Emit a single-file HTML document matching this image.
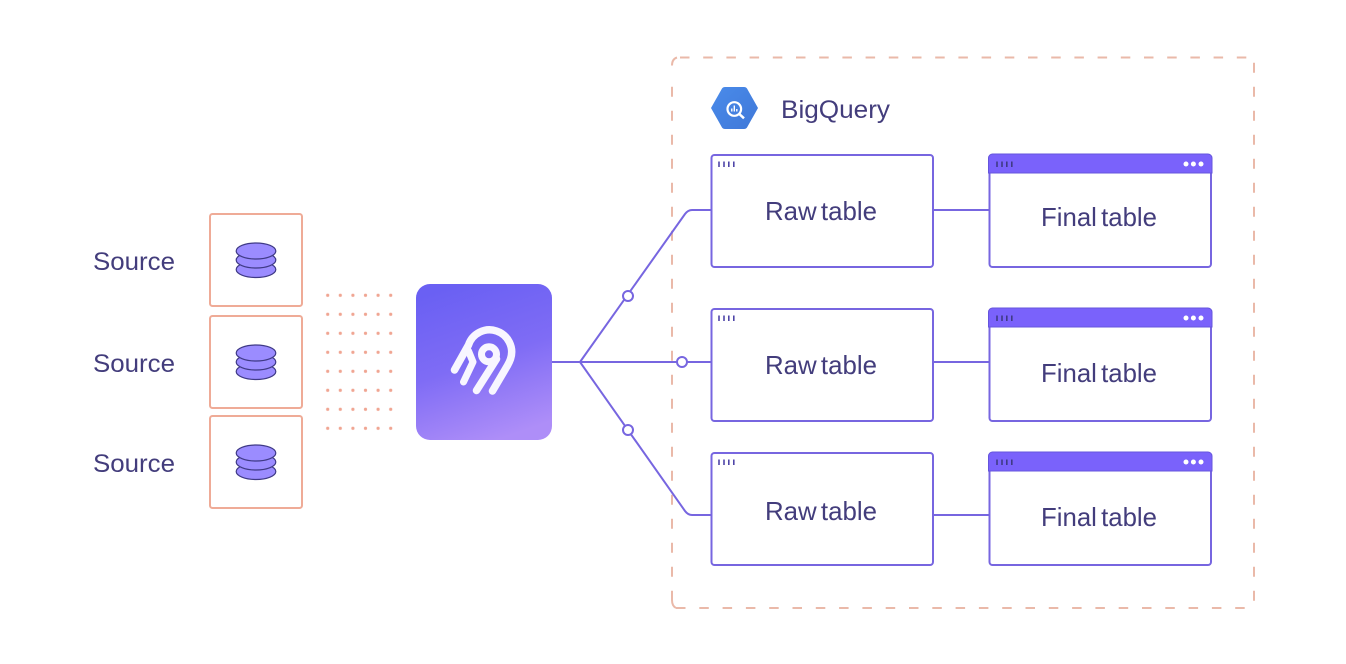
<!DOCTYPE html>
<html><head><meta charset="utf-8"><style>
html,body{margin:0;padding:0;background:#fff;width:1346px;height:664px;overflow:hidden}
svg{display:block}
text{font-family:"Liberation Sans",sans-serif;fill:#433d7c;font-size:25px}
.t{font-size:26px;word-spacing:-3px}
</style></head><body>
<svg width="1346" height="664" viewBox="0 0 1346 664" xmlns="http://www.w3.org/2000/svg">
<defs>
<linearGradient id="g" x1="0.3" y1="0" x2="0.6" y2="1"><stop offset="0" stop-color="#6a60f3"/><stop offset="0.5" stop-color="#7f6cf5"/><stop offset="1" stop-color="#ae8ef8"/></linearGradient>
<linearGradient id="b" x1="0" y1="0" x2="1" y2="1"><stop offset="0" stop-color="#4a8bea"/><stop offset="1" stop-color="#3f78d8"/></linearGradient>
<pattern id="dots" x="321.400" y="285.800" width="12.600" height="19" patternUnits="userSpaceOnUse"><circle cx="6.300" cy="9.500" r="1.600" fill="#f0a592"/></pattern>
<g id="db" fill="#9b8cff" stroke="#3f3a86" stroke-width="1.200">
<ellipse cx="256" cy="269.500" rx="19.800" ry="8"/><ellipse cx="256" cy="260" rx="19.800" ry="8"/><ellipse cx="256" cy="251" rx="19.800" ry="8"/>
</g>
<g id="raw">
<rect x="711.500" y="155" width="221.500" height="112" rx="3" fill="#fff" stroke="#7766e0" stroke-width="2"/>
<path d="M719 161.500v5.500M724 161.500v5.500M728.800 161.500v5.500M733.800 161.500v5.500" stroke="#4f46a8" stroke-width="1.600"/>
</g>
<g id="fin">
<rect x="989.500" y="155" width="221.500" height="112" rx="3" fill="#fff" stroke="#7766e0" stroke-width="2"/>
<path d="M988.500 173V158a4 4 0 0 1 4-4H1208a4 4 0 0 1 4 4V173Z" fill="#7a62fb" stroke="#6555dc" stroke-width="1"/>
<path d="M997 161.500v5.500M1002 161.500v5.500M1006.800 161.500v5.500M1011.800 161.500v5.500" stroke="#3f3a86" stroke-width="1.600"/>
<circle cx="1186" cy="164" r="2.500" fill="#fff"/><circle cx="1193.400" cy="164" r="2.500" fill="#fff"/><circle cx="1201" cy="164" r="2.500" fill="#fff"/>
</g>
</defs>

<g fill="none" stroke="#eab9a9" stroke-width="2">
<path d="M680 57.500H1249" stroke-dasharray="9.500 13.700"/>
<path d="M676 608H1249" stroke-dasharray="9.500 13.800" stroke-dashoffset="0"/>
<path d="M672 86.700V592" stroke-dasharray="10 14"/>
<path d="M672 65.500Q672 59 677 57.500"/>
<path d="M672 592V600Q672 606 676 608"/>
<path d="M1254 62.700V606" stroke-dasharray="10 14"/>
</g>

<g fill="#fff" stroke="#efab97" stroke-width="2">
<rect x="210" y="214" width="92" height="92" rx="2.500"/>
<rect x="210" y="316" width="92" height="92" rx="2.500"/>
<rect x="210" y="416" width="92" height="92" rx="2.500"/>
</g>
<use href="#db"/><use href="#db" y="102"/><use href="#db" y="202"/>

<text x="93" y="270" textLength="82" lengthAdjust="spacingAndGlyphs">Source</text>
<text x="93" y="372" textLength="82" lengthAdjust="spacingAndGlyphs">Source</text>
<text x="93" y="472" textLength="82" lengthAdjust="spacingAndGlyphs">Source</text>

<rect x="321.400" y="285.800" width="75.600" height="152" fill="url(#dots)"/>

<g fill="none" stroke="#7766e0" stroke-width="2">
<path d="M552 362H711"/>
<path d="M580 362L685 214Q688 210 692 210H711"/>
<path d="M580 362L685 511Q688 515 692 515H711"/>
<path d="M933 210H989M933 362H989M933 515H989"/>
</g>
<g fill="#fff" stroke="#7766e0" stroke-width="2">
<circle cx="628" cy="296" r="5"/><circle cx="682" cy="362" r="5"/><circle cx="628" cy="430" r="5"/>
</g>

<rect x="416" y="284" width="136" height="156" rx="14" fill="url(#g)"/>
<g fill="none" stroke="#f8f6ff" stroke-linecap="round" stroke-linejoin="round">
<path stroke-width="7.500" d="M454.500 370L468.500 345A22 22 0 0 1 510.500 359Q509.500 362 507.500 365.500L492.500 391"/>
<path stroke-width="7" d="M468.500 351L473 362L463.500 382"/>
<path stroke-width="7.500" d="M496.500 359L476.500 390.500"/>
<circle cx="489" cy="354.300" r="7.500" stroke-width="7"/>
</g>

<path d="M711 108L722 88.500Q723 87 725 87H744Q746 87 747 88.500L758 108L747 127.500Q746 129 744 129H725Q723 129 722 127.500Z" fill="url(#b)"/>
<circle cx="734.300" cy="109" r="6.800" fill="none" stroke="#fff" stroke-width="2.200"/>
<path d="M739.300 114L744 118.300" stroke="#fff" stroke-width="2.500"/>
<path d="M731.800 108.500v3M734.300 105.500v6M736.800 109v2.500" stroke="#fff" stroke-width="1.400"/>
<text x="781" y="118" textLength="109" lengthAdjust="spacingAndGlyphs" font-size="26">BigQuery</text>

<use href="#raw"/><use href="#raw" y="154"/><use href="#raw" y="298"/>
<use href="#fin"/><use href="#fin" y="154"/><use href="#fin" y="298"/>

<text class="t" x="765" y="220" textLength="112" lengthAdjust="spacingAndGlyphs">Raw table</text>
<text class="t" x="765" y="374" textLength="112" lengthAdjust="spacingAndGlyphs">Raw table</text>
<text class="t" x="765" y="520" textLength="112" lengthAdjust="spacingAndGlyphs">Raw table</text>
<text class="t" x="1041" y="226" textLength="116" lengthAdjust="spacingAndGlyphs">Final table</text>
<text class="t" x="1041" y="382" textLength="116" lengthAdjust="spacingAndGlyphs">Final table</text>
<text class="t" x="1041" y="526" textLength="116" lengthAdjust="spacingAndGlyphs">Final table</text>
</svg>
</body></html>
